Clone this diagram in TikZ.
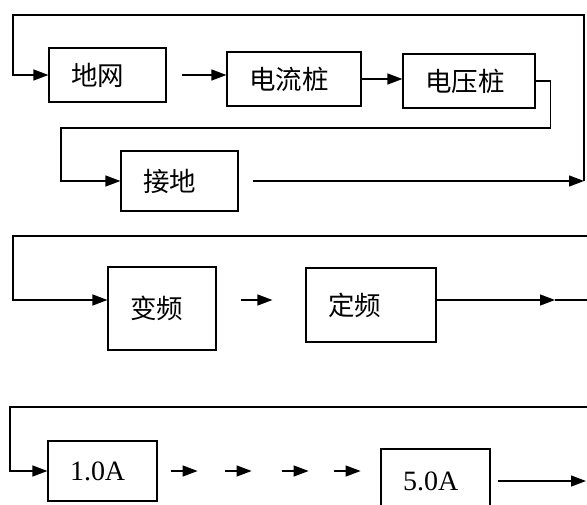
\documentclass[tikz,border=0pt]{standalone}
\usepackage{fontspec}
\setmainfont{Liberation Serif}
\newfontfamily\cjk{Noto Sans CJK SC}
\usepackage{tikz}
\usetikzlibrary{arrows.meta, positioning, calc}

\begin{document}
\begin{tikzpicture}[
			x = 1pt, y = -1pt,
			stagebox/.style = {rectangle, draw, line width=1.2pt, align=left,
					inner xsep=22pt, inner ysep=0pt},
			cntext/.style = {font=\cjk\fontsize{26.5pt}{30pt}\selectfont},
			numtext/.style = {font=\fontsize{28pt}{32pt}\selectfont},
			line/.style = {draw, line width=1.3pt, -{Triangle[length=15pt, width=11pt]}},
			wire/.style = {draw, line width=1.3pt},
		]
		\useasboundingbox (0,0) rectangle (587,505);
		\clip (0,0) rectangle (587,505);

		% Free ends and rows
		\coordinate (loopR) at (584,181);
		\coordinate (feed2) at (587,236);
		\coordinate (row2) at (0,300);
		\coordinate (tip2) at (555,300);
		\coordinate (out2) at (587,300);
		\coordinate (feed3) at (587,407);
		\coordinate (out3) at (586,481);

		% First row: grounding test
		\node [stagebox, cntext, text width=73pt, minimum height=54pt] (grid) at (107.5,75) {地网};
		\node [stagebox, cntext, text width=90pt, minimum height=54pt] (current) at (294,79) {电流桩};
		\node [stagebox, cntext, text width=88pt, minimum height=54pt] (voltage) at (469,81) {电压桩};
		\node [stagebox, cntext, text width=73pt, minimum height=60pt] (earth) at (179.5,181) {接地};

		% Second row: frequency
		\node [stagebox, cntext, text width=64pt, minimum height=83pt] (varfreq) at (162,308.5) {变频};
		\node [stagebox, cntext, text width=86pt, minimum height=74pt] (fixfreq) at (371,305) {定频};

		% Third row: current steps
		\node [stagebox, numtext, text width=65pt, minimum height=60pt] (lowA) at (102.5,471) {1.0A};
		\node [stagebox, numtext, text width=65pt, minimum height=64pt] (highA) at (435.5,481) {5.0A};

		% Draw arrows
		\path [line] (loopR) |- (13,15) |- (grid.west);
		\path [line, shorten <=15pt] (grid.east) -- (grid.east -| current.west);
		\path [line] (current.east) -- (current.east -| voltage.west);
		\path [line] (voltage.east) -- ++(15,0) |- (61,128) |- (earth.west);
		\path [line, shorten <=14pt] (earth.east) -- (loopR);

		\path [line] (feed2) -| (13,300) -- (varfreq.west |- row2);
		\path [line, shorten <=24pt, shorten >=33pt] (varfreq.east |- row2) -- (fixfreq.west |- row2);
		\path [line] (fixfreq.east |- row2) -- (tip2);
		\path [wire] (tip2) -- (out2);

		\path [line] (feed3) -| (10,471) -- (lowA.west);
		\foreach \dx in {13,67,124,176}
		\path [line] ([xshift=\dx pt]lowA.east) -- ++(27,0);
		\path [line, shorten <=7pt] (highA.east) -- (out3);
	\end{tikzpicture}
\end{document}
